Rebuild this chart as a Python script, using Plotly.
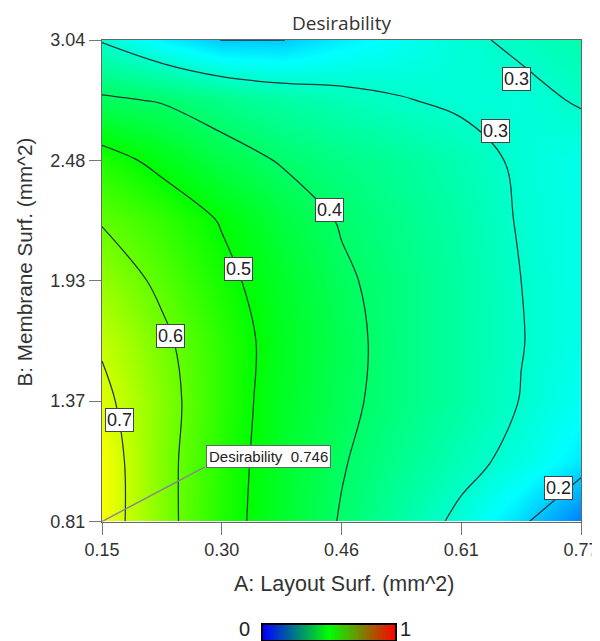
import plotly.graph_objects as go

# ---- data ----
layout_surf = [0.15, 0.2275, 0.305, 0.3825, 0.46, 0.5375, 0.615, 0.6925, 0.77]          # A (mm^2)
membrane_surf = [0.81, 1.08875, 1.3675, 1.64625, 1.925, 2.20375, 2.4825, 2.76125, 3.04]  # B (mm^2)

# desirability rows, one per membrane_surf value (bottom -> top)
d_b0 = [0.746, 0.627, 0.530, 0.458, 0.395, 0.340, 0.285, 0.213, 0.120]
d_b1 = [0.745, 0.625, 0.535, 0.460, 0.405, 0.360, 0.320, 0.280, 0.230]
d_b2 = [0.720, 0.630, 0.540, 0.465, 0.415, 0.375, 0.340, 0.298, 0.260]
d_b3 = [0.690, 0.615, 0.540, 0.470, 0.420, 0.375, 0.340, 0.302, 0.270]
d_b4 = [0.645, 0.585, 0.520, 0.460, 0.410, 0.375, 0.340, 0.300, 0.270]
d_b5 = [0.595, 0.550, 0.495, 0.440, 0.395, 0.365, 0.335, 0.295, 0.270]
d_b6 = [0.530, 0.480, 0.430, 0.395, 0.370, 0.350, 0.325, 0.290, 0.270]
d_b7 = [0.410, 0.395, 0.365, 0.340, 0.320, 0.303, 0.290, 0.285, 0.305]
d_b8 = [0.295, 0.240, 0.199, 0.198, 0.235, 0.260, 0.290, 0.310, 0.330]

x_tick_vals = [0.15, 0.305, 0.46, 0.615, 0.77]
x_tick_text = ["0.15", "0.30", "0.46", "0.61", "0.77"]
y_tick_vals = [0.81, 1.3675, 1.925, 2.4825, 3.04]
y_tick_text = ["0.81", "1.37", "1.93", "2.48", "3.04"]

contour_levels = [0.2, 0.3, 0.4, 0.5, 0.6, 0.7]

# contour label boxes (text, A, B)
label_text = ["0.3", "0.3", "0.4", "0.5", "0.6", "0.7", "0.2"]
label_a = [0.686, 0.659, 0.444, 0.327, 0.239, 0.172, 0.7406]
label_b = [2.858, 2.619, 2.253, 1.978, 1.669, 1.280, 0.964]

# optimum point
opt_a = 0.15
opt_b = 0.81
opt_value = 0.746
opt_label_a = 0.3655
opt_label_b = 1.109
opt_corner_a = 0.2833
opt_corner_b = 1.063

# colour legend
legend_values = [0, 1]

z = [d_b0, d_b1, d_b2, d_b3, d_b4, d_b5, d_b6, d_b7, d_b8]

surface_scale = [[0.0, "rgb(0,0,255)"], [0.25, "rgb(0,255,255)"], [0.5, "rgb(0,255,0)"],
                 [0.75, "rgb(255,255,0)"], [1.0, "rgb(255,0,0)"]]
bar_scale = [[0.0, "rgb(0,0,255)"], [0.5, "rgb(0,255,0)"], [1.0, "rgb(255,0,0)"]]

# the page body adds an 8px offset, so the figure is 8px smaller on each side
W, H = 592, 633


def px(x):      # page pixel -> paper x
    return (x - 8) / W


def py(y):      # page pixel -> paper y
    return 1 - (y - 8) / H


FONT = "Liberation Sans, Arial"

fig = go.Figure()
fig.add_trace(go.Heatmap(x=layout_surf, y=membrane_surf, z=z, zmin=0, zmax=1,
                         colorscale=surface_scale, zsmooth="best", showscale=False,
                         hoverinfo="skip"))
fig.add_trace(go.Contour(x=layout_surf, y=membrane_surf, z=z,
                         contours=dict(start=contour_levels[0], end=contour_levels[-1],
                                       size=0.1, coloring="none", showlabels=False),
                         line=dict(color="#1f3535", width=1.25, smoothing=1.0),
                         showscale=False, hoverinfo="skip"))
# colour legend bar drawn as a small gradient on its own axes
fig.add_trace(go.Heatmap(x=legend_values, y=[0], z=[legend_values], zmin=0, zmax=1,
                         colorscale=bar_scale, zsmooth="best", showscale=False,
                         hoverinfo="skip", xaxis="x2", yaxis="y2"))

annotations = []
for t, a, b in zip(label_text, label_a, label_b):
    annotations.append(dict(x=a, y=b, xref="x", yref="y", text=t, showarrow=False,
                            font=dict(family=FONT, size=18, color="#222"),
                            bgcolor="white", bordercolor="#444", borderwidth=1, borderpad=1))
annotations.append(dict(x=opt_label_a, y=opt_label_b, xref="x", yref="y",
                        text=f"Desirability&nbsp;&nbsp;{opt_value}", showarrow=False,
                        font=dict(family=FONT, size=15, color="#222"),
                        bgcolor="white", bordercolor="#666", borderwidth=1, borderpad=2))
# title & axis titles
annotations.append(dict(x=px(341.5), y=py(40), xref="paper", yref="paper", yanchor="bottom",
                        yshift=2, text="Desirability", showarrow=False,
                        font=dict(family="Open Sans", size=19, color="#333")))
annotations.append(dict(x=px(344), y=py(584), xref="paper", yref="paper", yanchor="middle",
                        text="A: Layout Surf. (mm^2)", showarrow=False,
                        font=dict(family=FONT, size=21.5, color="#333")))
annotations.append(dict(x=px(24), y=py(262.5), xref="paper", yref="paper", xanchor="center",
                        yanchor="middle", textangle=-90,
                        text="B: Membrane Surf. (mm^2)", showarrow=False,
                        font=dict(family=FONT, size=20.7, color="#333")))
# colour bar end labels
annotations.append(dict(x=px(244.5), y=py(641), xref="paper", yref="paper", yanchor="bottom",
                        text=str(legend_values[0]), showarrow=False, borderpad=0,
                        font=dict(family=FONT, size=20, color="#222")))
annotations.append(dict(x=px(412), y=py(641), xref="paper", yref="paper", yanchor="bottom",
                        text=str(legend_values[1]), showarrow=False, borderpad=0,
                        font=dict(family=FONT, size=20, color="#222")))

axis_common = dict(ticks="outside", ticklen=12, tickcolor="#777", showgrid=False,
                   zeroline=False, showline=True, mirror=True, linecolor="#666", linewidth=1,
                   automargin=False, tickfont=dict(family=FONT, size=18, color="#333"))

fig.update_layout(
    width=W, height=H,
    margin=dict(l=0, r=0, t=0, b=0),
    paper_bgcolor="white", plot_bgcolor="white",
    showlegend=False,
    xaxis=dict(domain=[px(102), px(581)], range=[0.15, 0.77],
               tickvals=x_tick_vals, ticktext=x_tick_text, **axis_common),
    yaxis=dict(domain=[py(521.5), py(40)], range=[0.81, 3.04],
               tickvals=y_tick_vals, ticktext=y_tick_text, **axis_common),
    xaxis2=dict(domain=[px(263), px(395)], range=[0, 1], anchor="y2",
                showticklabels=False, ticks="", showgrid=False, zeroline=False,
                showline=True, mirror=True, linecolor="black", linewidth=1.5,
                automargin=False, fixedrange=True),
    yaxis2=dict(domain=[py(640), py(625)], range=[-0.5, 0.5], anchor="x2",
                showticklabels=False, ticks="", showgrid=False, zeroline=False,
                showline=True, mirror=True, linecolor="black", linewidth=1.5,
                automargin=False, fixedrange=True),
    shapes=[dict(type="line", xref="x", yref="y", x0=opt_a, y0=opt_b,
                 x1=opt_corner_a, y1=opt_corner_b, line=dict(color="#888", width=1.5))],
    annotations=annotations,
)

fig.write_html("out.html")
